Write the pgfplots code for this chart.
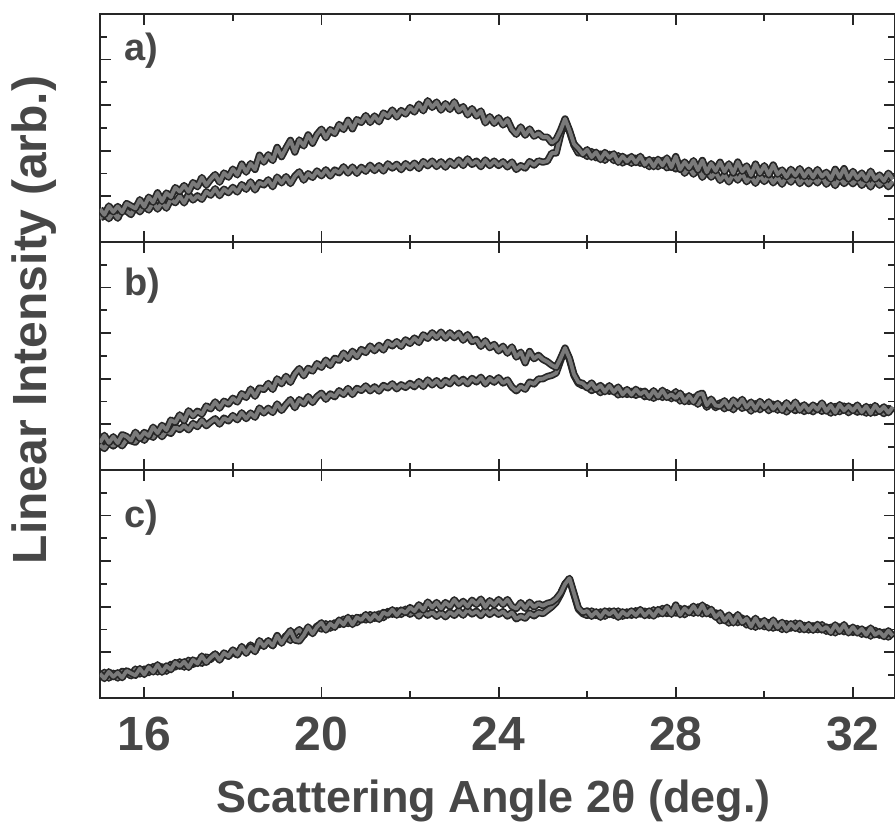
\documentclass[border=0pt]{standalone}
\usepackage{fontspec}
\setmainfont{Liberation Sans}
\usepackage{pgfplots}
\pgfplotsset{compat=1.18}
\usepackage{pgfplotstable}
\usepgfplotslibrary{groupplots}
\usetikzlibrary{calc}

\definecolor{ink}{gray}{0.28}
\definecolor{trace}{gray}{0.48}

% panel a: x, upper trace, lower trace
\pgfplotstableread{
x y1 y2
15.0 1.45 1.00
15.1 1.19 1.34
15.2 1.58 1.02
15.3 1.32 1.31
15.4 1.56 1.04
15.5 1.30 1.43
15.6 1.69 1.36
15.7 1.58 1.20
15.8 1.47 1.58
15.9 1.86 1.32
16.0 1.55 1.60
16.1 1.97 1.40
16.2 1.74 1.74
16.3 2.16 1.44
16.4 1.78 1.73
16.5 2.15 1.48
16.6 1.97 1.87
16.7 2.39 1.72
16.8 2.21 2.01
16.9 2.48 1.71
17.0 2.20 2.10
17.1 2.61 1.84
17.2 2.42 2.03
17.3 2.83 1.87
17.4 2.49 2.21
17.5 2.75 2.05
17.6 2.96 2.34
17.7 2.62 2.03
17.8 3.03 2.32
17.9 2.84 2.16
18.0 3.20 2.40
18.1 2.94 2.19
18.2 3.42 2.52
18.3 3.06 2.31
18.4 3.44 2.64
18.5 3.18 2.28
18.6 3.81 2.61
18.7 3.50 2.50
18.8 3.83 2.73
18.9 3.57 2.42
19.0 4.15 2.85
19.1 3.74 2.59
19.2 4.12 2.87
19.3 4.46 2.56
19.4 3.94 2.89
19.5 4.48 3.08
19.6 4.21 2.71
19.7 4.70 3.00
19.8 4.33 2.83
19.9 4.72 3.12
20.0 4.95 2.90
20.1 4.57 3.17
20.2 4.93 2.89
20.3 4.75 3.16
20.4 5.16 3.03
20.5 4.93 3.30
20.6 5.34 3.02
20.7 4.96 3.29
20.8 5.37 3.01
20.9 5.24 3.28
21.0 5.55 3.10
21.1 5.24 3.37
21.2 5.53 3.13
21.3 5.27 3.35
21.4 5.66 3.11
21.5 5.50 3.43
21.6 5.79 3.24
21.7 5.48 3.41
21.8 5.77 3.17
21.9 5.61 3.44
22.0 5.90 3.25
22.1 5.70 3.46
22.2 6.05 3.22
22.3 5.75 3.53
22.4 6.20 3.34
22.5 5.90 3.55
22.6 6.14 3.31
22.7 5.78 3.52
22.8 6.07 3.28
22.9 5.81 3.54
23.0 6.15 3.35
23.1 5.75 3.60
23.2 5.94 3.35
23.3 5.57 3.65
23.4 5.85 3.40
23.5 5.52 3.55
23.6 5.75 3.30
23.7 5.22 3.60
23.8 5.50 3.35
23.9 5.20 3.55
24.0 5.45 3.35
24.1 5.13 3.52
24.2 5.36 3.29
24.3 4.94 3.51
24.4 4.72 3.18
24.5 5.05 3.35
24.6 4.68 3.24
24.7 4.96 3.53
24.8 4.64 3.37
24.9 4.77 3.56
25.0 4.60 3.50
25.1 4.60 3.55
25.2 4.35 3.90
25.3 4.50 3.90
25.4 4.90 4.70
25.5 5.40 5.35
25.6 4.90 4.85
25.7 4.30 4.25
25.8 4.10 3.90
25.9 3.85 3.95
26.0 4.05 3.75
26.1 3.72 3.97
26.2 3.94 3.69
26.3 3.61 3.86
26.4 3.93 3.58
26.5 3.70 3.85
26.6 3.87 3.57
26.7 3.49 3.79
26.8 3.76 3.46
26.9 3.53 3.68
27.0 3.75 3.45
27.1 3.48 3.68
27.2 3.76 3.45
27.3 3.39 3.58
27.4 3.62 3.30
27.5 3.30 3.58
27.6 3.63 3.30
27.7 3.36 3.58
27.8 3.69 3.25
27.9 3.27 3.38
28.0 3.75 3.20
28.1 3.18 3.41
28.2 3.51 3.01
28.3 3.24 3.27
28.4 3.57 2.97
28.5 3.15 3.28
28.6 3.58 2.83
28.7 3.06 3.14
28.8 3.44 2.84
28.9 3.12 3.05
29.0 3.50 2.70
29.1 3.09 2.94
29.2 3.43 2.63
29.3 3.02 2.97
29.4 3.51 2.71
29.5 3.10 3.00
29.6 3.34 2.64
29.7 2.93 2.88
29.8 3.42 2.57
29.9 3.01 2.91
30.0 3.35 2.65
30.1 2.94 2.90
30.2 3.38 2.59
30.3 2.97 2.84
30.4 3.16 2.53
30.5 2.85 2.88
30.6 3.19 2.62
30.7 2.92 2.92
30.8 3.22 2.56
30.9 2.86 2.81
31.0 3.15 2.55
31.1 2.84 2.80
31.2 3.18 2.59
31.3 2.87 2.89
31.4 3.06 2.53
31.5 2.75 2.78
31.6 3.19 2.47
31.7 2.83 2.82
31.8 3.22 2.56
31.9 2.76 2.76
32.0 3.10 2.55
32.1 2.79 2.79
32.2 3.03 2.48
32.3 2.72 2.72
32.4 3.11 2.41
32.5 2.75 2.75
32.6 2.94 2.49
32.7 2.68 2.68
32.8 3.02 2.42
32.9 2.76 2.66
}\panela

% panel b
\pgfplotstableread{
x y1 y2
15.0 1.20 1.10
15.1 1.52 0.94
15.2 1.19 1.22
15.3 1.46 1.05
15.4 1.18 1.23
15.5 1.55 1.06
15.6 1.47 1.34
15.7 1.29 1.28
15.8 1.66 1.22
15.9 1.38 1.50
16.0 1.65 1.30
16.1 1.49 1.59
16.2 1.88 1.43
16.3 1.62 1.72
16.4 1.96 1.46
16.5 1.75 1.72
16.6 2.19 1.60
16.7 2.08 1.89
16.8 2.42 1.77
16.9 2.16 1.95
17.0 2.60 1.76
17.1 2.37 2.04
17.2 2.58 1.90
17.3 2.45 2.18
17.4 2.81 1.94
17.5 2.68 2.11
17.6 2.99 2.25
17.7 2.71 2.01
17.8 3.02 2.28
17.9 2.89 2.15
18.0 3.15 2.39
18.1 2.98 2.20
18.2 3.35 2.51
18.3 3.18 2.25
18.4 3.55 2.50
18.5 3.23 2.31
18.6 3.60 2.72
18.7 3.53 2.50
18.8 3.80 2.71
18.9 3.53 2.52
19.0 4.00 2.90
19.1 3.78 2.61
19.2 4.11 2.87
19.3 3.84 3.09
19.4 4.22 2.73
19.5 4.45 3.09
19.6 4.13 2.90
19.7 4.46 3.22
19.8 4.34 2.96
19.9 4.67 3.22
20.0 4.50 3.37
20.1 4.82 3.10
20.2 4.58 3.34
20.3 4.90 3.21
20.4 4.81 3.48
20.5 5.13 3.31
20.6 4.89 3.58
20.7 5.21 3.31
20.8 4.97 3.58
20.9 5.29 3.49
21.0 5.15 3.69
21.1 5.44 3.47
21.2 5.23 3.65
21.3 5.47 3.46
21.4 5.26 3.71
21.5 5.60 3.60
21.6 5.44 3.78
21.7 5.63 3.56
21.8 5.42 3.74
21.9 5.71 3.62
22.0 5.55 3.80
22.1 5.79 3.65
22.2 5.59 3.88
22.3 5.93 3.66
22.4 5.77 3.95
22.5 6.02 3.73
22.6 5.81 3.92
22.7 6.05 3.70
22.8 5.78 3.93
22.9 6.02 3.78
23.0 5.80 4.04
23.1 6.00 3.81
23.2 5.69 3.98
23.3 5.94 3.78
23.4 5.63 4.02
23.5 5.73 3.86
23.6 5.42 4.07
23.7 5.67 3.77
23.8 5.36 4.01
23.9 5.51 3.85
24.0 5.22 4.05
24.1 5.43 3.81
24.2 5.12 3.95
24.3 5.40 3.64
24.4 4.95 3.47
24.5 5.17 3.67
24.6 4.70 3.54
24.7 5.20 3.86
24.8 4.88 3.77
24.9 5.03 3.99
25.0 4.85 4.00
25.1 4.75 4.10
25.2 4.60 4.15
25.3 4.50 4.25
25.4 4.90 4.80
25.5 5.35 5.30
25.6 4.90 4.85
25.7 4.20 4.15
25.8 3.85 3.80
25.9 3.80 3.70
26.0 3.60 3.70
26.1 3.82 3.48
26.2 3.54 3.62
26.3 3.71 3.39
26.4 3.43 3.60
26.5 3.70 3.45
26.6 3.42 3.55
26.7 3.64 3.29
26.8 3.31 3.47
26.9 3.53 3.31
27.0 3.30 3.45
27.1 3.54 3.27
27.2 3.32 3.46
27.3 3.46 3.21
27.4 3.19 3.36
27.5 3.48 3.14
27.6 3.21 3.36
27.7 3.50 3.18
27.8 3.18 3.40
27.9 3.32 3.12
28.0 3.15 3.44
28.1 3.37 3.02
28.2 2.99 3.21
28.3 3.26 3.00
28.4 2.98 3.19
28.5 3.30 2.88
28.6 3.37 3.13
28.7 2.84 2.75
28.8 3.11 2.98
28.9 2.83 2.73
29.0 2.80 2.95
29.1 3.04 2.68
29.2 2.73 2.91
29.3 3.07 2.64
29.4 2.81 2.97
29.5 3.10 2.70
29.6 2.74 2.86
29.7 2.98 2.58
29.8 2.67 2.91
29.9 3.01 2.64
30.0 2.75 2.87
30.1 2.99 2.60
30.2 2.68 2.89
30.3 2.92 2.62
30.4 2.61 2.82
30.5 2.95 2.54
30.6 2.69 2.77
30.7 2.98 2.60
30.8 2.62 2.80
30.9 2.86 2.56
31.0 2.60 2.75
31.1 2.85 2.55
31.2 2.64 2.78
31.3 2.94 2.57
31.4 2.58 2.70
31.5 2.83 2.49
31.6 2.52 2.79
31.7 2.87 2.55
31.8 2.61 2.81
31.9 2.81 2.51
32.0 2.60 2.74
32.1 2.85 2.53
32.2 2.54 2.69
32.3 2.79 2.49
32.4 2.48 2.75
32.5 2.83 2.51
32.6 2.57 2.64
32.7 2.77 2.47
32.8 2.51 2.70
32.9 2.76 2.53
}\panelb

% panel c
\pgfplotstableread{
x y1 y2
15.0 1.07 0.87
15.1 0.85 1.13
15.2 1.15 0.87
15.3 0.93 1.09
15.4 1.11 0.87
15.5 0.89 1.17
15.6 1.19 1.11
15.7 1.09 0.97
15.8 0.99 1.27
15.9 1.29 1.05
16.0 1.03 1.27
16.1 1.35 1.11
16.2 1.14 1.38
16.3 1.46 1.14
16.4 1.13 1.37
16.5 1.41 1.17
16.6 1.24 1.48
16.7 1.56 1.36
16.8 1.39 1.59
16.9 1.59 1.35
17.0 1.34 1.66
17.1 1.67 1.47
17.2 1.51 1.63
17.3 1.84 1.52
17.4 1.56 1.80
17.5 1.77 1.69
17.6 1.93 1.93
17.7 1.66 1.70
17.8 1.98 1.94
17.9 1.83 1.83
18.0 2.11 2.03
18.1 1.89 1.89
18.2 2.26 2.18
18.3 1.96 2.04
18.4 2.25 2.33
18.5 2.03 2.07
18.6 2.52 2.36
18.7 2.26 2.30
18.8 2.51 2.51
18.9 2.29 2.29
19.0 2.74 2.66
19.1 2.40 2.48
19.2 2.70 2.74
19.3 2.96 2.52
19.4 2.54 2.82
19.5 2.50 3.00
19.6 2.76 2.74
19.7 3.12 3.00
19.8 2.82 2.90
19.9 3.12 3.16
20.0 3.30 3.02
20.1 2.98 3.26
20.2 3.26 3.06
20.3 3.10 3.30
20.4 3.42 3.22
20.5 3.22 3.46
20.6 3.54 3.26
20.7 3.22 3.50
20.8 3.54 3.30
20.9 3.42 3.54
21.0 3.66 3.42
21.1 3.42 3.66
21.2 3.65 3.49
21.3 3.45 3.69
21.4 3.76 3.52
21.5 3.64 3.80
21.6 3.87 3.67
21.7 3.63 3.83
21.8 3.86 3.66
21.9 3.74 3.90
22.0 3.97 3.67
22.1 3.81 3.81
22.2 4.09 3.59
22.3 3.85 3.81
22.4 4.21 3.63
22.5 3.97 3.77
22.6 4.19 3.58
22.7 3.93 3.75
22.8 4.19 3.56
22.9 4.01 3.77
23.0 4.31 3.62
23.1 4.04 3.83
23.2 4.24 3.63
23.3 4.01 3.88
23.4 4.29 3.68
23.5 4.10 3.81
23.6 4.34 3.61
23.7 3.99 3.86
23.8 4.27 3.66
23.9 4.08 3.83
24.0 4.32 3.67
24.1 4.10 3.79
24.2 4.32 3.59
24.3 4.02 3.75
24.4 3.92 3.47
24.5 4.18 3.59
24.6 3.93 3.50
24.7 4.20 3.73
24.8 3.99 3.60
24.9 4.14 3.75
25.0 4.05 3.70
25.1 4.15 3.85
25.2 4.20 4.00
25.3 4.35 4.20
25.4 4.60 4.55
25.5 5.00 5.00
25.6 5.25 5.20
25.7 4.60 4.55
25.8 3.95 3.90
25.9 3.75 3.70
26.0 3.82 3.62
26.1 3.58 3.82
26.2 3.78 3.62
26.3 3.54 3.78
26.4 3.82 3.58
26.5 3.66 3.82
26.6 3.82 3.62
26.7 3.54 3.82
26.8 3.78 3.58
26.9 3.62 3.78
27.0 3.82 3.62
27.1 3.63 3.83
27.2 3.88 3.68
27.3 3.61 3.81
27.4 3.82 3.62
27.5 3.59 3.87
27.6 3.88 3.68
27.7 3.69 3.93
27.8 3.98 3.70
27.9 3.67 3.83
28.0 4.08 3.72
28.1 3.65 3.93
28.2 3.93 3.65
28.3 3.74 3.90
28.4 4.03 3.71
28.5 3.72 4.00
28.6 4.08 3.68
28.7 3.69 3.97
28.8 3.89 3.65
28.9 3.54 3.74
29.0 3.74 3.38
29.1 3.39 3.55
29.2 3.64 3.28
29.3 3.29 3.53
29.4 3.66 3.30
29.5 3.31 3.51
29.6 3.48 3.20
29.7 3.13 3.37
29.8 3.50 3.10
29.9 3.15 3.35
30.0 3.40 3.12
30.1 3.07 3.31
30.2 3.42 3.06
30.3 3.09 3.25
30.4 3.32 3.00
30.5 2.99 3.27
30.6 3.26 3.06
30.7 3.05 3.29
30.8 3.28 3.00
30.9 2.99 3.19
31.0 3.22 2.98
31.1 2.97 3.17
31.2 3.23 2.99
31.3 2.98 3.22
31.4 3.12 2.92
31.5 2.87 3.11
31.6 3.21 2.85
31.7 2.92 3.12
31.8 3.22 2.90
31.9 2.85 3.05
32.0 3.11 2.87
32.1 2.85 3.05
32.2 3.03 2.79
32.3 2.77 2.97
32.4 3.07 2.71
32.5 2.77 2.97
32.6 2.91 2.75
32.7 2.69 2.89
32.8 2.95 2.67
32.9 2.73 2.85
}\panelc

\pgfplotsset{
  edge/.style={black!85, line width=3.6pt, line join=round},
  core/.style={trace, line width=1.9pt, line join=round},
}

\newcommand{\trace}[2]{%
  \addplot[edge] table[x=x, y=#2] {#1};
  \addplot[core] table[x=x, y=#2] {#1};
}

\begin{document}
\begin{tikzpicture}
\begin{groupplot}[
    group style={group size=1 by 3, vertical sep=0pt, xticklabels at=edge bottom},
    scale only axis,
    width=397.5pt, height=114pt,
    xmin=15, xmax=32.95, ymin=0, ymax=10,
    xtick={16,20,24,28,32},
    minor xtick={18,22,26,30},
    ytick={2,4,6,8},
    minor ytick={1,3,5,7,9},
    yticklabels={},
    tick align=inside,
    xtick pos=both, ytick pos=both,
    major tick length=5.5pt, minor tick length=3.5pt,
    axis line style={black!85, line width=1.1pt},
    every tick/.style={black!85, line width=0.9pt},
    xticklabel style={font=\fontsize{24}{28}\bfseries\selectfont, text=ink, yshift=-6pt},
    /pgf/number format/assume math mode=true,
    clip=true,
]
\nextgroupplot
\trace{\panela}{y2}
\trace{\panela}{y1}
\node[anchor=west, font=\fontsize{19}{22}\bfseries\selectfont, text=ink] at (rel axis cs:0.022,0.84) {a)};
\nextgroupplot
\trace{\panelb}{y2}
\trace{\panelb}{y1}
\node[anchor=west, font=\fontsize{19}{22}\bfseries\selectfont, text=ink] at (rel axis cs:0.022,0.81) {b)};
\nextgroupplot
\trace{\panelc}{y2}
\trace{\panelc}{y1}
\node[anchor=west, font=\fontsize{19}{22}\bfseries\selectfont, text=ink] at (rel axis cs:0.022,0.79) {c)};
\end{groupplot}
\node[rotate=90, font=\fontsize{24}{28}\bfseries\selectfont, text=ink]
  at ($(group c1r1.north west)+(-33pt,-153pt)$) {Linear Intensity (arb.)};
\node[anchor=base, font=\fontsize{22.5}{26}\bfseries\selectfont, text=ink]
  at ($(group c1r3.south)+(-2pt,-57.5pt)$) {Scattering Angle 2θ (deg.)};
\pgfresetboundingbox
\path ($(group c1r1.north west)+(-50pt,7pt)$) rectangle ($(group c1r3.south east)+(0pt,-64.5pt)$);
\end{tikzpicture}
\end{document}
